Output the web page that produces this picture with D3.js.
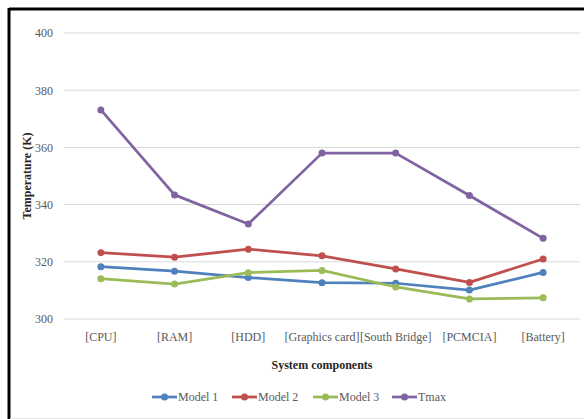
<!DOCTYPE html>
<html>
<head>
<meta charset="utf-8">
<script src="https://cdn.jsdelivr.net/npm/d3@7"></script>
<style>
  body { margin: 0; background: #fff; }
  text { font-family: "Liberation Serif", "Times New Roman", serif; }
</style>
</head>
<body>
<div id="chart"></div>
<script>
var categories = ["[CPU]", "[RAM]", "[HDD]", "[Graphics card]", "[South Bridge]", "[PCMCIA]", "[Battery]"];
var model1 = [318.3, 316.7, 314.5, 312.7, 312.5, 310.1, 316.3];
var model2 = [323.2, 321.6, 324.4, 322.1, 317.5, 312.8, 321.0];
var model3 = [314.1, 312.2, 316.2, 317.0, 311.2, 307.0, 307.4];
var tmax = [373.1, 343.4, 333.2, 358.0, 358.0, 343.2, 328.2];
var seriesNames = ["Model 1", "Model 2", "Model 3", "Tmax"];
var yTicks = [300, 320, 340, 360, 380, 400];

function init() {
    var w = 584;
    var h = 419;
    var colors = ["#4F81BD", "#C0504D", "#9BBB59", "#8064A2"];
    var seriesData = [model1, model2, model3, tmax];

    var svg = d3.select("#chart")
        .append("svg")
        .attr("width", w)
        .attr("height", h);

    // outer frame: thick black top/left, faint bottom
    svg.append("line").attr("x1", 9).attr("x2", w).attr("y1", 9).attr("y2", 9)
        .attr("stroke", "#000").attr("stroke-width", 3);
    svg.append("line").attr("x1", 9).attr("x2", 9).attr("y1", 8).attr("y2", h)
        .attr("stroke", "#000").attr("stroke-width", 3);
    svg.append("line").attr("x1", 10).attr("x2", w).attr("y1", 418.5).attr("y2", 418.5)
        .attr("stroke", "#e4e4e4").attr("stroke-width", 1);

    var x = d3.scaleBand().domain(categories).range([64, 580]);
    var y = d3.scaleLinear().domain([300, 400]).range([319, 33]);

    // gridlines
    svg.selectAll("line.grid")
      .data(yTicks)
      .enter()
      .append("line")
      .attr("class", "grid")
      .attr("x1", 64)
      .attr("x2", 580)
      .attr("y1", function(d) { return y(d); })
      .attr("y2", function(d) { return y(d); })
      .attr("stroke", "#d9d9d9")
      .attr("stroke-width", 1);

    var yAxis = d3.axisLeft(y).tickValues(yTicks).tickSize(0).tickPadding(0);
    var gy = svg.append("g").attr("transform", "translate(53,0)").call(yAxis);
    gy.select(".domain").remove();
    gy.selectAll("text").attr("fill", "#595959").style("font-size", "12px")
      .style("font-family", "'Liberation Serif', serif");

    var xAxis = d3.axisBottom(x).tickSize(0).tickPadding(0);
    var gx = svg.append("g").attr("transform", "translate(0,332)").call(xAxis);
    gx.select(".domain").remove();
    gx.selectAll("text").attr("fill", "#595959").style("font-size", "12px")
      .style("font-family", "'Liberation Serif', serif");

    var line = d3.line()
      .x(function(d, i) { return x(categories[i]) + x.bandwidth() / 2; })
      .y(function(d) { return y(d); });

    seriesData.forEach(function(vals, k) {
        svg.append("path")
          .datum(vals)
          .attr("fill", "none")
          .attr("stroke", colors[k])
          .attr("stroke-width", 2.75)
          .attr("stroke-linejoin", "round")
          .attr("d", line);
        svg.selectAll("circle.s" + k)
          .data(vals)
          .enter()
          .append("circle")
          .attr("class", "s" + k)
          .attr("cx", function(d, i) { return x(categories[i]) + x.bandwidth() / 2; })
          .attr("cy", function(d) { return y(d); })
          .attr("r", 3.5)
          .attr("fill", colors[k]);
    });

    svg.append("text")
      .attr("x", 322)
      .attr("y", 369)
      .attr("text-anchor", "middle")
      .style("font-size", "12px")
      .style("font-weight", "bold")
      .attr("fill", "#262626")
      .text("System components");

    svg.append("text")
      .attr("transform", "translate(31,176) rotate(-90)")
      .attr("text-anchor", "middle")
      .style("font-size", "12px")
      .style("font-weight", "bold")
      .attr("fill", "#262626")
      .text("Temperature (K)");

    var legendX = [152, 232, 313, 392];
    var leg = svg.selectAll("g.legend")
      .data(seriesNames)
      .enter()
      .append("g")
      .attr("class", "legend")
      .attr("transform", function(d, i) { return "translate(" + legendX[i] + ",397)"; });
    leg.append("line")
      .attr("x1", 0).attr("x2", 25).attr("y1", 0).attr("y2", 0)
      .attr("stroke", function(d, i) { return colors[i]; })
      .attr("stroke-width", 2.75);
    leg.append("circle")
      .attr("cx", 12.5).attr("cy", 0).attr("r", 3.5)
      .attr("fill", function(d, i) { return colors[i]; });
    leg.append("text")
      .attr("x", 26)
      .attr("y", 4)
      .style("font-size", "12px")
      .attr("fill", "#595959")
      .text(function(d) { return d; });
}

window.onload = init;
</script>
</body>
</html>
